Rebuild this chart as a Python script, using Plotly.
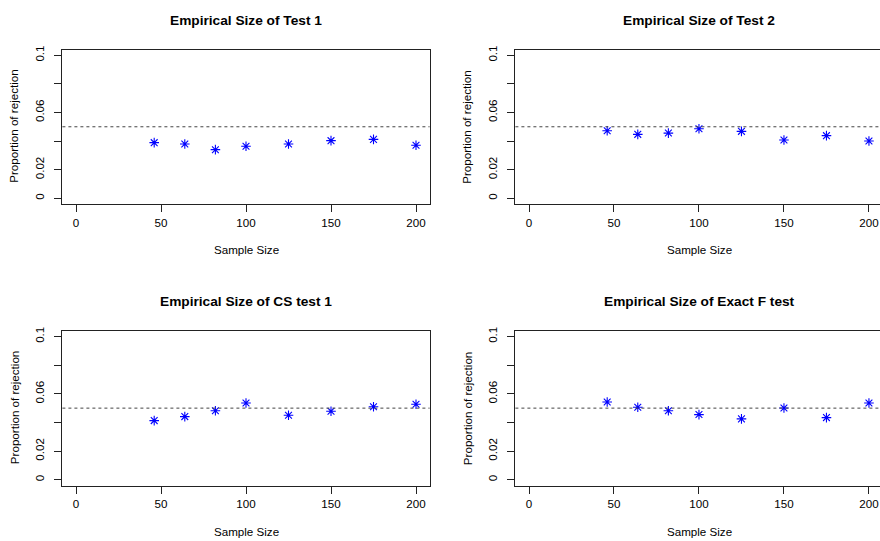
import plotly.graph_objects as go

sample_sizes = [46, 64, 82, 100, 125, 150, 175, 200]
test1 = [0.0389, 0.0380, 0.0340, 0.0364, 0.0380, 0.0403, 0.0412, 0.0371]
test2 = [0.0472, 0.0447, 0.0456, 0.0486, 0.0468, 0.0408, 0.0438, 0.0401]
cs_test1 = [0.0413, 0.0441, 0.0482, 0.0536, 0.0450, 0.0478, 0.0510, 0.0527]
exact_f = [0.0543, 0.0506, 0.0482, 0.0455, 0.0425, 0.0501, 0.0434, 0.0536]
titles = ["Empirical Size of Test 1", "Empirical Size of Test 2",
          "Empirical Size of CS test 1", "Empirical Size of Exact F test"]
series = [test1, test2, cs_test1, exact_f]
nominal = 0.05
x_ticks = [0, 50, 100, 150, 200]
y_ticks = [0, 0.02, 0.04, 0.06, 0.08, 0.1]
y_ticktext = ["0", "0.02", "", "0.06", "", "0.1"]

W, H = 880, 541
FONT = "Liberation Sans, Arial, sans-serif"
# pixel boxes (left, right, top, bottom)
boxes = [(62.4, 429.6, 45.9, 201.5), (515.4, 880.0, 45.9, 201.5),
         (62.4, 429.6, 329.2, 485.1), (515.4, 880.0, 329.2, 485.1)]
x_ranges = [[-8, 208], [-8, 206.5], [-8, 208], [-8, 206.5]]

fig = go.Figure()
annotations = []
shapes = []
for i, (yv, (l, r, t, b)) in enumerate(zip(series, boxes)):
    n = i + 1
    xa = "x" if n == 1 else f"x{n}"
    ya = "y" if n == 1 else f"y{n}"
    fig.add_trace(go.Scatter(
        x=sample_sizes, y=yv, mode="markers", xaxis=xa, yaxis=ya,
        marker=dict(symbol="asterisk-open", size=8, color="#0000FF",
                    line=dict(color="#2222FF", width=1.1)),
        showlegend=False, hoverinfo="skip"))
    right_panel = (i % 2 == 1)
    fig.update_layout(**{
        ("xaxis" if n == 1 else f"xaxis{n}"): dict(
            domain=[l / W, r / W], anchor=ya, range=x_ranges[i],
            tickvals=x_ticks, ticks="outside", ticklen=7, tickwidth=1,
            tickcolor="#222", showline=True, linecolor="#222", linewidth=1,
            mirror=True, showgrid=False, zeroline=False,
            tickfont=dict(family=FONT, size=11.6, color="#000"),
            ticklabelstandoff=1),
        ("yaxis" if n == 1 else f"yaxis{n}"): dict(
            domain=[1 - b / H, 1 - t / H], anchor=xa, range=[-0.004, 0.104],
            tickvals=y_ticks, ticktext=y_ticktext, ticks="outside",
            ticklen=7, tickwidth=1, tickcolor="#222", tickangle=-90,
            showline=True, linecolor="#222", linewidth=1,
            mirror=(not right_panel), showgrid=False, zeroline=False,
            tickfont=dict(family=FONT, size=11.6, color="#000"),
            ticklabelstandoff=6),
    })
    shapes.append(dict(type="line", xref=f"{xa} domain", yref=ya,
                       x0=0, x1=1, y0=nominal, y1=nominal,
                       line=dict(color="#444", width=1, dash="3px,3px")))
    full_r = r if not right_panel else 883.0
    cx = (l + full_r) / 2
    cy = (t + b) / 2
    annotations.append(dict(text=f"<b>{titles[i]}</b>", x=cx / W, y=1 - (t - 29.5) / H,
                            xref="paper", yref="paper", xanchor="center", yanchor="middle",
                            showarrow=False, font=dict(family=FONT, size=13.7, color="#000")))
    annotations.append(dict(text="Sample Size", x=cx / W,
                            y=1 - (b + 46.2) / H, xref="paper", yref="paper",
                            xanchor="center", yanchor="middle", showarrow=False,
                            font=dict(family=FONT, size=11.6, color="#000")))
    annotations.append(dict(text="Proportion of rejection", x=(l - 48.4) / W, y=1 - cy / H,
                            xref="paper", yref="paper", xanchor="center", yanchor="middle",
                            textangle=-90, showarrow=False,
                            font=dict(family=FONT, size=11.6, color="#000")))

fig.update_layout(width=W, height=H, margin=dict(l=0, r=0, t=0, b=0),
                  paper_bgcolor="white", plot_bgcolor="white",
                  annotations=annotations, shapes=shapes)
fig.write_html("out.html")
